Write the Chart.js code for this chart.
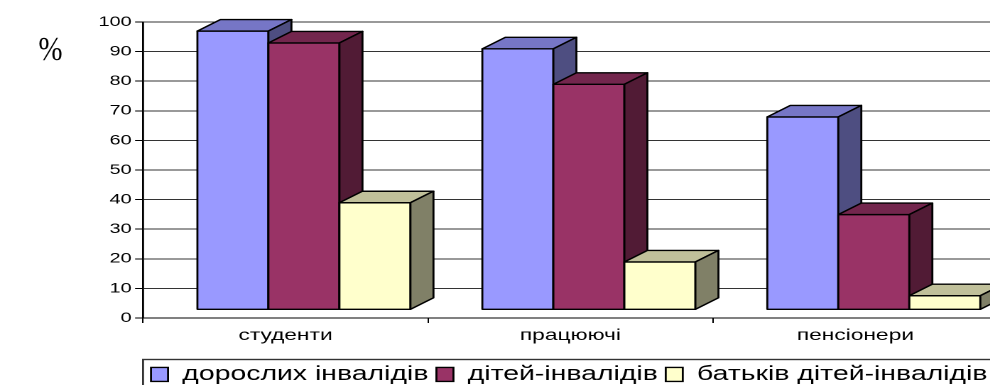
<!DOCTYPE html>
<html>
<head>
<meta charset="utf-8">
<script src="https://cdn.jsdelivr.net/npm/chart.js@4.4.1/dist/chart.umd.min.js"></script>
<style>
html, body { margin:0; padding:0; background:#fff; overflow:hidden; }
#wrap { width:1000px; height:385px; }
/* the source picture is stretched sideways, so the canvas is stretched the same way */
#chart { width:1000px !important; height:385px !important; }
</style>
</head>
<body>
<div id="wrap"><canvas id="chart" width="704" height="385"></canvas></div>
<script>

// data (%)
const categories = ["студенти", "працюючі", "пенсіонери"];
const seriesNames = ["дорослих інвалідів", "дітей-інвалідів", "батьків дітей-інвалідів"];
const adults   = [94, 88, 65];
const children = [90, 76, 32];
const parents  = [36, 16, 4.6];
const yMin = 0, yMax = 100, yStep = 10;


/*
=========================
LOOK
=========================
*/

const faces = [
  { front:"#9999ff", top:"#7676c6", side:"#4e4e81" },
  { front:"#993366", top:"#73264d", side:"#511b35" },
  { front:"#ffffcc", top:"#c0c09a", side:"#808067" }
];

const DX = 16.2;          // depth of the fake 3d, sideways
const DY = -11.5;         // depth of the fake 3d, upwards
const LIFT = 2.94;        // bar fronts stand a little above the 0 line
const SHIFT = 0.0646;     // groups sit a bit right of the category middle

Chart.defaults.font.family = "'Liberation Sans', Arial, sans-serif";
Chart.defaults.color = "#000";


function poly(ctx, pts, fill){
  ctx.beginPath();
  ctx.moveTo(pts[0][0], pts[0][1]);
  for (let k = 1; k < pts.length; k++) ctx.lineTo(pts[k][0], pts[k][1]);
  ctx.closePath();
  ctx.fillStyle = fill;
  ctx.fill();
  ctx.stroke();
}


// redraw every bar as a box, left to right, so the overlaps come out right
const bars3d = {
  id: "bars3d",
  afterDatasetsDraw(chart){
    const ctx = chart.ctx;
    ctx.save();
    ctx.lineWidth = 1.4;
    ctx.strokeStyle = "#000";
    ctx.lineJoin = "round";
    for (let i = 0; i < categories.length; i++) {
      chart.data.datasets.forEach((ds, d) => {
        const bar = chart.getDatasetMeta(d).data[i];
        if (!bar) return;
        const p = bar.getProps(["x", "y", "base", "width"], true);
        const l = p.x - p.width / 2, r = p.x + p.width / 2, t = p.y, b = p.base;
        poly(ctx, [[l, t], [r, t], [r, b], [l, b]], faces[d].front);
        poly(ctx, [[l, t], [l + DX, t + DY], [r + DX, t + DY], [r, t]], faces[d].top);
        poly(ctx, [[r, t], [r + DX, t + DY], [r + DX, b + DY], [r, b]], faces[d].side);
      });
    }
    ctx.restore();
  }
};


// legend frame and the "%" sign
const extras = {
  id: "extras",
  afterDraw(chart){
    const ctx = chart.ctx;
    const lg = chart.legend;
    ctx.save();
    ctx.strokeStyle = "#333";
    ctx.lineWidth = 1.4;
    ctx.strokeRect(chart.chartArea.left, lg.top + 0.7, chart.width, 40);

    ctx.scale(0.6, 1);
    ctx.font = "34px 'Liberation Serif', 'Times New Roman', serif";
    ctx.fillStyle = "#000";
    ctx.textBaseline = "alphabetic";
    ctx.fillText("%", 27 / 0.6, 60);
    ctx.restore();
  }
};


const series = [adults, children, parents];

const datasets = series.map((vals, d) => ({
  label: seriesNames[d],
  data: vals.map((v, i) => ({ x: i, y: v })),
  backgroundColor: faces[d].front,
  borderColor: "#000",
  borderWidth: 1.4,
  barThickness: 50,
  xAxisID: "xb",
  yAxisID: "yb"
}));


new Chart(document.getElementById("chart"), {
  type: "bar",
  data: { labels: categories, datasets: datasets },
  options: {
    responsive: false,
    devicePixelRatio: 2,
    animation: false,
    layout: { padding: { left: 0, right: 1.5, top: 22, bottom: 0 } },
    plugins: {
      legend: {
        position: "bottom",
        align: "start",
        fullSize: false,      // legend only as wide as the plot, like the framed box
        maxHeight: 26.2,
        labels: { boxWidth: 12, boxHeight: 14, padding: 5.6, color: "#000", font: { size: 20 } }
      },
      tooltip: { enabled: false }
    },
    scales: {
      x: {
        type: "category",
        offset: true,
        grid: { offset: true, drawOnChartArea: false, tickLength: 5, color: "#000" },
        border: { color: "#000" },
        ticks: { color: "#000", font: { size: 16 }, padding: 3, maxRotation: 0 },
        afterFit(s){ s.height = 40.8; }
      },
      y: {
        min: yMin,
        max: yMax,
        ticks: { stepSize: yStep, color: "#000", font: { size: 14 }, padding: 2.4 },
        grid: { color: "#333", tickLength: 5.6, tickColor: "#000" },
        border: { color: "#000", width: 1.4 },
        afterFit(s){ s.width = 100.7; }
      },
      xb: { type: "linear", display: false, offset: false, min: -0.5 - SHIFT, max: categories.length - 0.5 - SHIFT },
      yb: { type: "linear", display: false, min: yMin - LIFT, max: yMax - LIFT }
    }
  },
  plugins: [bars3d, extras]
});

</script>
</body>
</html>
